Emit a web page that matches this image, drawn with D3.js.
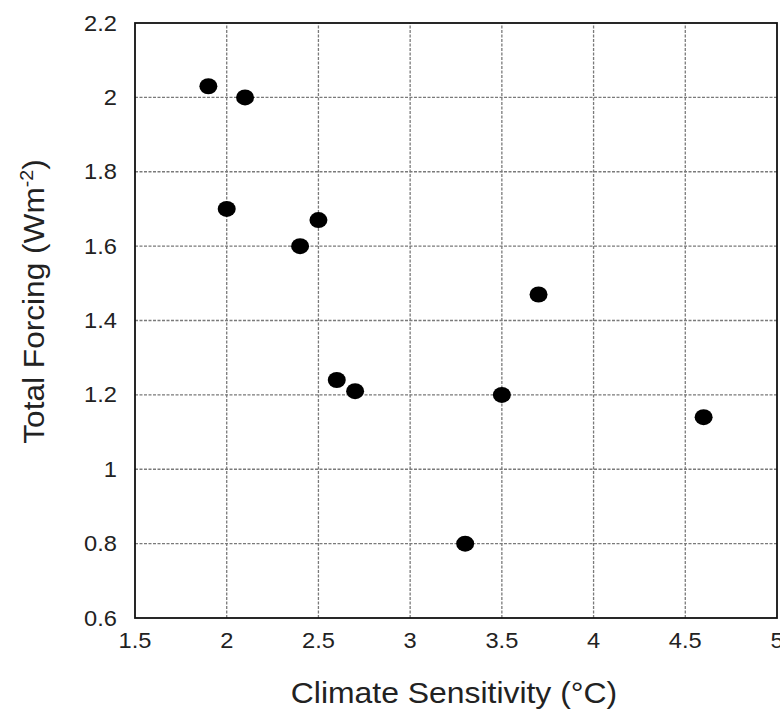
<!DOCTYPE html>
<html lang="en">
<head>
<meta charset="utf-8">
<script src="https://cdn.jsdelivr.net/npm/d3@7"></script>
<style>
    body { margin: 0; background: white; }
    text { font-family: "Liberation Sans", Arial, sans-serif; fill: #222; }
    .grid line { stroke: #7a7a7a; stroke-width: 1.3px; stroke-dasharray: 3,1.5; }
    .tick-label { font-size: 21.5px; }
    .title { font-size: 29px; }
</style>
</head>
<body>
<script>
    // climate sensitivity (deg C) vs total forcing (W m-2)
    const sensitivity = [1.9, 2.1, 2.0, 2.5, 2.4, 3.7, 2.6, 2.7, 3.5, 4.6, 3.3];
    const forcing = [2.03, 2.0, 1.7, 1.67, 1.6, 1.47, 1.24, 1.21, 1.2, 1.14, 0.8];

    const xTicks = [1.5, 2, 2.5, 3, 3.5, 4, 4.5, 5];
    const yTicks = [0.6, 0.8, 1, 1.2, 1.4, 1.6, 1.8, 2, 2.2];

    const width = 780, height = 709;
    const margin = {left: 135, right: 3, top: 23, bottom: 91};

    const svg = d3.select("body").append("svg")
        .attr("width", width).attr("height", height);

    const x = d3.scaleLinear().domain([1.5, 5])
        .range([margin.left, width - margin.right]);
    const y = d3.scaleLinear().domain([0.6, 2.2])
        .range([height - margin.bottom, margin.top]);

    // grid
    const grid = svg.append("g").attr("class", "grid");
    grid.selectAll(".vx").data(xTicks.slice(1, -1)).enter().append("line")
        .attr("x1", d => x(d)).attr("x2", d => x(d))
        .attr("y1", y(0.6)).attr("y2", y(2.2));
    grid.selectAll(".hy").data(yTicks.slice(1, -1)).enter().append("line")
        .attr("y1", d => y(d)).attr("y2", d => y(d))
        .attr("x1", x(1.5)).attr("x2", x(5));

    // frame
    svg.append("rect")
        .attr("x", x(1.5)).attr("y", y(2.2))
        .attr("width", x(5) - x(1.5)).attr("height", y(0.6) - y(2.2))
        .attr("fill", "none").attr("stroke", "#111").attr("stroke-width", 1.8);

    // tick labels (slightly widened like the scanned original)
    svg.append("g").selectAll("text").data(xTicks).enter().append("text")
        .attr("class", "tick-label")
        .attr("transform", d => "translate(" + x(d) + "," + (y(0.6) + 30) + ") scale(1.1,1)")
        .attr("text-anchor", "middle")
        .text(d => d);

    svg.append("g").selectAll("text").data(yTicks).enter().append("text")
        .attr("class", "tick-label")
        .attr("transform", d => "translate(" + (margin.left - 18) + "," + (y(d) + 7.5) + ") scale(1.1,1)")
        .attr("text-anchor", "end")
        .text(d => d);

    // points
    svg.append("g").selectAll("ellipse").data(sensitivity).enter().append("ellipse")
        .attr("cx", (d, i) => x(d))
        .attr("cy", (d, i) => y(forcing[i]))
        .attr("rx", 9).attr("ry", 8)
        .attr("fill", "#000");

    // axis titles
    svg.append("text").attr("class", "title")
        .attr("transform", "translate(" + ((x(1.5) + x(5)) / 2 - 2) + ",703) scale(1.1,1)")
        .attr("text-anchor", "middle")
        .text("Climate Sensitivity (\u00B0C)");

    const yt = svg.append("text").attr("class", "title")
        .attr("transform", "translate(43.5,301.5) rotate(-90) scale(1.09,1)")
        .attr("text-anchor", "middle");
    yt.append("tspan").text("Total Forcing (Wm");
    yt.append("tspan").attr("dy", -11).attr("font-size", "18px").text("-2");
    yt.append("tspan").attr("dy", 11).text(")");
</script>
</body>
</html>
